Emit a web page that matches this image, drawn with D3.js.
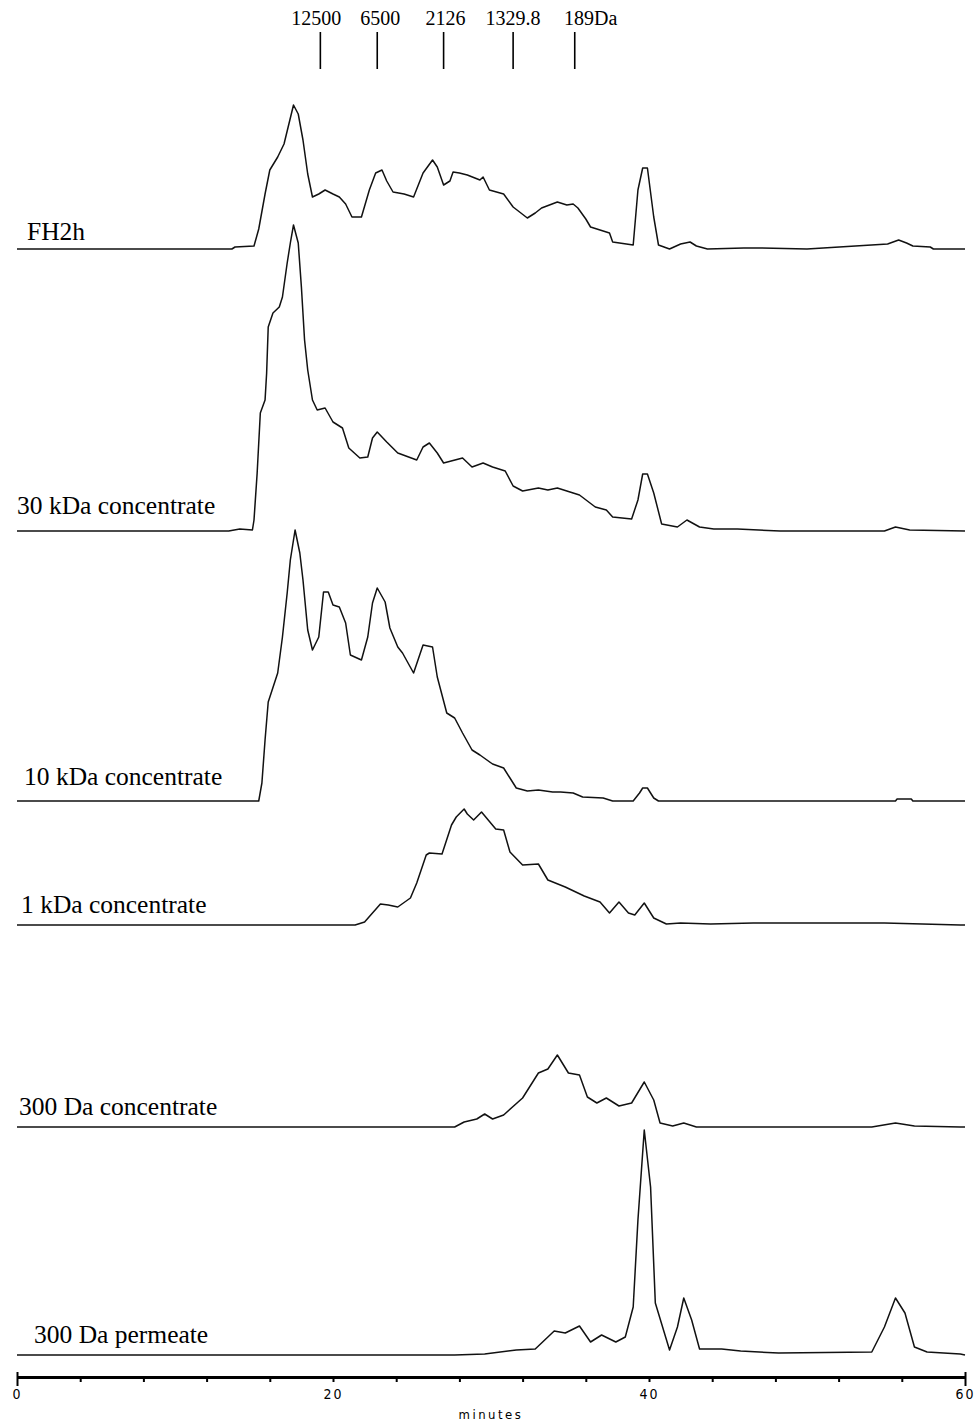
<!DOCTYPE html>
<html>
<head>
<meta charset="utf-8">
<script src="https://cdn.jsdelivr.net/npm/d3@7"></script>
<style>
  body { margin: 0; background: #fff; }
  svg { display: block; }
</style>
</head>
<body>
<script>
// chromatogram values: [minutes, detector signal]
const fh2h = [[0,0],[13.6,0],[13.8,2],[15.0,3],[15.3,20],[15.7,55],[16.0,79],[16.5,92],[16.9,105],[17.5,144],[17.8,135],[18.1,109],[18.4,75],[18.7,52],[19.1,55],[19.5,59],[20.0,55],[20.4,52],[20.8,45],[21.2,32],[21.8,32],[22.3,59],[22.7,76],[23.1,79],[23.4,68],[23.8,57],[24.5,55],[25.1,52],[25.7,76],[26.3,89],[26.6,82],[27.0,64],[27.4,68],[27.6,77],[28.0,76],[28.5,74],[29.3,69],[29.5,72],[29.9,59],[30.8,55],[31.4,42],[32.3,31],[32.8,36],[33.2,41],[34.2,47],[34.8,44],[35.2,45],[35.5,41],[36.0,30],[36.3,22],[37.5,16],[37.7,7],[39.0,4],[39.3,59],[39.6,81],[39.9,81],[40.3,32],[40.6,4],[41.3,0],[42.0,5],[42.6,7],[43.0,3],[43.7,0],[46,1],[47,1],[50,0],[55.1,5],[55.8,9],[56.3,6],[56.7,3],[57.8,2],[58.0,0],[60,0]];
const kda30 = [[0,0],[13.4,0],[14.1,2],[14.9,1],[15.0,11],[15.2,58],[15.4,118],[15.7,131],[15.8,158],[15.9,204],[16.2,218],[16.6,224],[16.8,234],[17.1,268],[17.3,288],[17.5,306],[17.8,288],[18.0,244],[18.2,191],[18.4,161],[18.7,131],[19.0,121],[19.5,123],[20.0,109],[20.6,103],[21.0,83],[21.7,73],[22.2,74],[22.5,93],[22.8,99],[23.4,89],[24.1,78],[25.3,71],[25.7,84],[26.1,88],[26.6,78],[27.0,68],[28.2,73],[28.8,64],[29.5,68],[30.1,64],[30.9,60],[31.4,45],[32.0,40],[33.0,43],[33.6,41],[34.2,43],[35.2,38],[35.6,36],[36.6,24],[37.3,21],[37.7,14],[38.9,12],[39.3,31],[39.6,57],[39.9,57],[40.3,38],[40.8,7],[41.8,4],[42.4,11],[43.2,4],[44.1,2],[45.6,2],[48.3,0],[54.9,0],[55.6,4],[56.5,1],[60,0]];
const kda10 = [[0,0],[15.3,0],[15.5,18],[15.7,61],[15.9,99],[16.5,128],[16.8,164],[17.1,208],[17.3,241],[17.6,271],[17.9,248],[18.1,221],[18.4,171],[18.7,151],[19.1,164],[19.4,209],[19.7,209],[20.0,196],[20.4,194],[20.8,178],[21.1,146],[21.8,141],[22.2,164],[22.5,198],[22.8,213],[23.3,199],[23.6,173],[24.1,154],[24.4,148],[25.1,128],[25.7,156],[26.3,154],[26.6,124],[27.2,88],[27.7,83],[28.2,68],[28.8,51],[29.3,46],[30.1,37],[30.8,33],[31.2,23],[31.6,13],[32.3,10],[33.0,11],[33.9,9],[34.4,9],[35.2,8],[35.8,4],[37.1,3],[37.7,0],[39.0,0],[39.4,8],[39.6,13],[39.9,13],[40.3,3],[40.6,0],[55.6,0],[55.7,2],[56.6,2],[56.7,0],[60,0]];
const kda1 = [[0,0],[21.4,0],[22.0,3],[23.0,21],[23.5,20],[24.1,18],[24.9,27],[25.3,42],[25.9,70],[26.1,72],[26.9,71],[27.5,100],[27.8,108],[28.3,116],[28.5,111],[28.9,105],[29.4,113],[30.3,96],[30.8,95],[31.2,73],[32.0,60],[33.0,61],[33.6,45],[34.7,38],[35.9,29],[36.9,23],[37.5,12],[38.1,23],[38.7,12],[39.1,10],[39.7,22],[40.3,7],[41.1,1],[42.0,2],[43.9,1],[46.6,2],[54.9,2],[59.7,0],[60,0]];
const da300conc = [[0,0],[27.7,0],[28.3,5],[29.1,8],[29.6,13],[30.1,8],[30.8,12],[32.0,29],[33.0,54],[33.6,58],[34.2,72],[34.9,54],[35.6,52],[36.1,30],[36.7,24],[37.3,29],[38.1,21],[38.9,24],[39.7,45],[40.3,27],[40.7,4],[41.5,1],[42.2,4],[43.0,0],[54.1,0],[55.6,4],[56.8,1],[59.7,0],[60,0]];
const da300perm = [[0,0],[27.7,0],[29.6,1],[31.6,5],[32.8,6],[34.0,24],[34.7,22],[35.6,29],[36.3,13],[37.0,20],[37.9,13],[38.5,18],[39.0,48],[39.3,135],[39.7,225],[40.1,168],[40.4,52],[41.3,5],[41.8,28],[42.2,57],[42.7,35],[43.2,6],[44.6,6],[45.8,4],[48.2,2],[54.1,3],[54.9,28],[55.6,57],[56.2,42],[56.8,8],[57.6,3],[59.7,1],[60,0]];

const seriesNames = ["FH2h", "30 kDa concentrate", "10 kDa concentrate", "1 kDa concentrate", "300 Da concentrate", "300 Da permeate"];
const seriesData = [fh2h, kda30, kda10, kda1, da300conc, da300perm];

// molecular weight standards along the top
const markerLabels = ["12500", "6500", "2126", "1329.8", "189Da"];
const markerMinutes = [19.2, 22.8, 27.0, 31.4, 35.3];

const tickMinutes = [0, 4, 8, 12, 16, 20, 24, 28, 32, 36, 40, 44, 48, 52, 56, 60];
const tickLabelled = [0, 20, 40, 60];

// layout
const baselines = [249, 531, 801, 925, 1127, 1355];
const labelPos = [[27, 240], [17, 514], [24, 785], [21, 913], [19, 1115], [34, 1343]];
const markerDx = [-4, 3, 2, 0, 16];
const axisY = 1377;

const svg = d3.select("body").append("svg")
    .attr("width", 977)
    .attr("height", 1423);

const x = d3.scaleLinear().domain([0, 60]).range([17, 965]);

seriesData.forEach((data, i) => {
    const y = d3.scaleLinear().domain([0, 100]).range([baselines[i], baselines[i] - 100]);
    const line = d3.line().x(d => x(d[0])).y(d => y(d[1]));

    svg.append("path")
        .datum(data)
        .attr("d", line)
        .attr("fill", "none")
        .attr("stroke", "#111")
        .attr("stroke-width", 1.5)
        .attr("stroke-linejoin", "round");

    svg.append("text")
        .attr("x", labelPos[i][0])
        .attr("y", labelPos[i][1])
        .style("font-family", "'Liberation Serif', 'Times New Roman', serif")
        .style("font-size", "25.5px")
        .style("fill", "#000")
        .text(seriesNames[i]);
});

// markers
const mk = svg.append("g");
mk.selectAll("line")
    .data(markerMinutes)
    .enter().append("line")
    .attr("x1", d => x(d)).attr("x2", d => x(d))
    .attr("y1", 32).attr("y2", 69)
    .attr("stroke", "#000")
    .attr("stroke-width", 1.6);
mk.selectAll("text")
    .data(markerLabels)
    .enter().append("text")
    .attr("x", (d, i) => x(markerMinutes[i]) + markerDx[i])
    .attr("y", 25)
    .attr("text-anchor", "middle")
    .style("font-family", "'Liberation Serif', 'Times New Roman', serif")
    .style("font-size", "20px")
    .text(d => d);

// time axis
const axis = svg.append("g")
    .attr("transform", "translate(0," + axisY + ")")
    .call(d3.axisBottom(x)
        .tickValues(tickMinutes)
        .tickSize(5)
        .tickSizeOuter(0)
        .tickFormat(d => tickLabelled.includes(d) ? d : ""));

axis.select(".domain").attr("stroke", "#000").attr("stroke-width", 3);
axis.selectAll(".tick line").attr("stroke", "#000").attr("stroke-width", 2);
axis.selectAll(".tick line")
    .filter(d => d === 0 || d === 60)
    .attr("y1", -5).attr("y2", 9);
axis.selectAll(".tick text")
    .attr("y", 12)
    .style("font-family", "'DejaVu Sans Condensed', 'DejaVu Sans', sans-serif")
    .style("font-size", "14px")
    .style("letter-spacing", "2px")
    .style("fill", "#000");

svg.append("text")
    .attr("x", x(30))
    .attr("y", axisY + 42)
    .attr("text-anchor", "middle")
    .style("font-family", "'DejaVu Sans Condensed', 'DejaVu Sans', sans-serif")
    .style("font-size", "13px")
    .style("letter-spacing", "2.5px")
    .text("minutes");
</script>
</body>
</html>
